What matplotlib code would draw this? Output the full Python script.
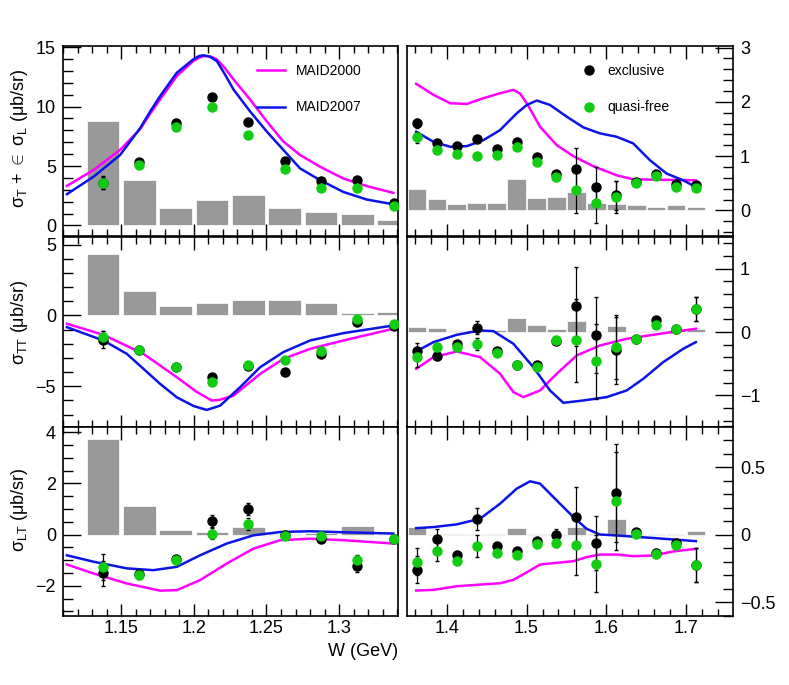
import numpy as np
import matplotlib
matplotlib.use('Agg')
import matplotlib.pyplot as plt
from matplotlib.ticker import MultipleLocator, FuncFormatter

plt.rcParams['font.family'] = ['Liberation Sans', 'DejaVu Sans']
plt.rcParams['mathtext.fontset'] = 'custom'
plt.rcParams['mathtext.rm'] = 'Liberation Sans'
plt.rcParams['mathtext.it'] = 'Liberation Sans'

# ---- W bins ----
w_low = [1.1375, 1.1625, 1.1875, 1.2125, 1.2375, 1.2625, 1.2875, 1.3125, 1.3375]
w_high = [1.3625, 1.3875, 1.4125, 1.4375, 1.4625, 1.4875, 1.5125, 1.5375,
          1.5625, 1.5875, 1.6125, 1.6375, 1.6625, 1.6875, 1.7125]

# ---- sigma_T + eps sigma_L ----
t_low_excl = [3.6, 5.37, 8.62, 10.8, 8.73, 5.4, 3.73, 3.79, 1.89]
t_low_excl_err = [0.55, 0.2, 0.2, 0.2, 0.2, 0.2, 0.15, 0.15, 0.15]
t_low_qf = [3.58, 5.06, 8.28, 10.0, 7.57, 4.72, 3.14, 3.14, 1.61]
t_low_qf_err = [0.5, 0.2, 0.2, 0.2, 0.2, 0.2, 0.15, 0.15, 0.15]
t_low_sys = [8.76, 3.81, 1.50, 2.15, 2.54, 1.47, 1.10, 0.96, 0.45]

t_high_excl = [1.605, 1.235, 1.185, 1.309, 1.130, 1.253, 0.988, 0.667,
               0.759, 0.432, 0.278, 0.531, 0.679, 0.481, 0.463]
t_high_excl_err = [0.08, 0.05, 0.05, 0.05, 0.05, 0.05, 0.05, 0.05,
                   0.4, 0.37, 0.27, 0.05, 0.05, 0.05, 0.05]
t_high_qf = [1.346, 1.111, 1.043, 1.0, 1.025, 1.173, 0.901, 0.611,
             0.383, 0.130, 0.247, 0.512, 0.630, 0.432, 0.420]
t_high_qf_err = [0.1, 0.05, 0.05, 0.05, 0.05, 0.05, 0.05, 0.05,
                 0.43, 0.36, 0.29, 0.05, 0.05, 0.05, 0.05]
t_high_sys = [0.389, 0.21, 0.123, 0.136, 0.13, 0.58, 0.228, 0.241,
              0.333, 0.136, 0.111, 0.105, 0.062, 0.105, 0.062]

t_low_m00_w = [1.1127, 1.1310, 1.1493, 1.1631, 1.1700, 1.1768, 1.1883, 1.1997, 1.2040, 1.2078,
               1.2120, 1.2158, 1.2210, 1.2273, 1.2387, 1.2502, 1.2616, 1.2731, 1.2869, 1.3029,
               1.3190, 1.3373]
t_low_m00 = [3.33, 4.66, 6.36, 8.11, 9.4, 10.6, 12.57, 13.84, 14.15, 14.26,
             14.2, 13.98, 13.3, 12.29, 10.6, 8.76, 7.06, 5.93, 4.94, 3.95,
             3.31, 2.74]
t_low_m07_w = [1.1127, 1.1310, 1.1493, 1.1631, 1.1700, 1.1768, 1.1883, 1.1997, 1.2035, 1.2066,
               1.2110, 1.2158, 1.2210, 1.2273, 1.2387, 1.2502, 1.2616, 1.2731, 1.2869, 1.3029,
               1.3190, 1.3373]
t_low_m07 = [2.63, 4.10, 5.93, 8.19, 9.6, 10.88, 12.85, 13.98, 14.25, 14.32,
             14.2, 13.84, 12.8, 11.44, 9.6, 7.9, 6.36, 4.8, 3.81, 2.82,
             2.18, 1.78]

t_high_m00_w = [1.3615, 1.3832, 1.4041, 1.4251, 1.4459, 1.4668, 1.4835, 1.4920, 1.5003, 1.5169,
                1.5378, 1.5587, 1.5837, 1.6130, 1.6338, 1.7124]
t_high_m00 = [2.333, 2.13, 1.975, 1.963, 2.068, 2.16, 2.222, 2.15, 1.975, 1.543,
              1.204, 1.0, 0.815, 0.648, 0.574, 0.556]
t_high_m07_w = [1.3615, 1.3832, 1.4041, 1.4251, 1.4459, 1.4668, 1.4877, 1.5003, 1.5128,
                1.5294, 1.5504, 1.5712, 1.5921, 1.6130, 1.6338, 1.6548, 1.6757, 1.6965, 1.7124]
t_high_m07 = [1.45, 1.265, 1.173, 1.185, 1.296, 1.481, 1.79, 1.944, 2.025,
              1.944, 1.728, 1.531, 1.42, 1.358, 1.235, 0.926, 0.679, 0.556, 0.432]

# ---- sigma_TT ----
tt_low_excl = [-1.72, -2.41, -3.66, -4.32, -3.58, -3.96, -2.71, -0.47, -0.78]
tt_low_excl_err = [0.6, 0.2, 0.2, 0.2, 0.2, 0.2, 0.15, 0.15, 0.15]
tt_low_qf = [-1.53, -2.41, -3.61, -4.67, -3.49, -3.18, -2.48, -0.28, -0.64]
tt_low_qf_err = [0.4, 0.2, 0.2, 0.2, 0.2, 0.2, 0.15, 0.15, 0.15]
tt_low_sys = [4.36, 1.72, 0.66, 0.87, 1.06, 1.11, 0.87, 0.17, 0.24]

tt_high_excl = [-0.305, -0.384, -0.184, 0.068, -0.305, -0.516, -0.526, -0.142,
                0.405, -0.042, -0.289, -0.105, 0.184, 0.053, 0.368]
tt_high_excl_err = [0.13, 0.06, 0.05, 0.1, 0.05, 0.05, 0.05, 0.05,
                    0.63, 0.6, 0.53, 0.05, 0.05, 0.05, 0.19]
tt_high_qf = [-0.395, -0.237, -0.237, -0.189, -0.326, -0.526, -0.553, -0.121,
              -0.132, -0.463, -0.237, -0.116, 0.116, 0.042, 0.368]
tt_high_qf_err = [0.16, 0.05, 0.05, 0.1, 0.05, 0.05, 0.05, 0.05,
                  0.66, 0.59, 0.5, 0.05, 0.05, 0.05, 0.19]
tt_high_sys = [0.074, 0.058, 0.02, 0.026, 0.026, 0.23, 0.105, 0.047,
               0.174, 0.016, 0.1, 0.016, 0.016, 0.037, 0.042]

tt_low_m00_w = [1.1127, 1.1378, 1.1653, 1.1883, 1.2020, 1.2124, 1.2180, 1.2273, 1.2456,
                1.2616, 1.2800, 1.3029, 1.3373]
tt_low_m00 = [-0.59, -1.37, -2.71, -4.36, -5.4, -6.01, -5.95, -5.66, -4.13,
              -3.07, -2.36, -1.77, -0.94]
tt_low_m07_w = [1.1127, 1.1378, 1.1539, 1.1768, 1.1883, 1.2000, 1.2089, 1.2181, 1.2318, 1.2456,
                1.2616, 1.2800, 1.3029, 1.3373]
tt_low_m07 = [-0.83, -1.77, -2.71, -4.83, -5.78, -6.4, -6.67, -6.37, -5.07, -3.66,
              -2.59, -1.77, -1.25, -0.71]

tt_high_m00_w = [1.3615, 1.3832, 1.4125, 1.4417, 1.4668, 1.4835, 1.4960, 1.5169, 1.5378,
                 1.5629, 1.5921, 1.6256, 1.6589, 1.7124]
tt_high_m00 = [-0.579, -0.395, -0.305, -0.395, -0.658, -0.947, -1.026, -0.921, -0.658,
               -0.368, -0.211, -0.105, -0.042, 0.053]
tt_high_m07_w = [1.3615, 1.3832, 1.4125, 1.4417, 1.4584, 1.4835, 1.5085, 1.5294, 1.5461,
                 1.5712, 1.6005, 1.6256, 1.6464, 1.6714, 1.6965, 1.7124]
tt_high_m07 = [-0.305, -0.158, -0.042, 0.026, 0.016, -0.184, -0.553, -0.921, -1.116,
               -1.079, -1.026, -0.921, -0.737, -0.474, -0.263, -0.158]

# ---- sigma_LT ----
lt_low_excl = [-1.52, -1.55, -0.97, 0.53, 1.0, -0.03, -0.16, -1.23, -0.16]
lt_low_excl_err = [0.48, 0.15, 0.15, 0.23, 0.23, 0.1, 0.1, 0.23, 0.1]
lt_low_qf = [-1.26, -1.58, -1.0, 0.04, 0.42, -0.05, -0.05, -1.0, -0.16]
lt_low_qf_err = [0.5, 0.15, 0.15, 0.22, 0.23, 0.1, 0.1, 0.2, 0.1]
lt_low_sys = [3.74, 1.10, 0.17, 0.10, 0.29, 0.01, 0.06, 0.32, 0.02]

lt_high_excl = [-0.257, -0.03, -0.148, 0.116, -0.081, -0.119, -0.049, -0.005,
                0.131, -0.059, 0.309, 0.02, -0.133, -0.062, -0.222]
lt_high_excl_err = [0.1, 0.07, 0.02, 0.08, 0.02, 0.02, 0.02, 0.05,
                    0.22, 0.2, 0.36, 0.02, 0.03, 0.02, 0.125]
lt_high_qf = [-0.198, -0.123, -0.19, -0.084, -0.136, -0.151, -0.067, -0.062,
              -0.077, -0.215, 0.249, 0.007, -0.141, -0.074, -0.222]
lt_high_qf_err = [0.1, 0.07, 0.02, 0.08, 0.02, 0.02, 0.02, 0.03,
                  0.22, 0.21, 0.36, 0.02, 0.03, 0.02, 0.125]
lt_high_sys = [0.057, 0.005, 0.007, 0.007, 0.005, 0.049, 0.005, 0.005,
               0.054, 0.005, 0.119, 0.005, 0.005, 0.005, 0.025]

lt_low_m00_w = [1.1127, 1.1310, 1.1539, 1.1768, 1.1883, 1.2043, 1.2227, 1.2410, 1.2594, 1.2800, 1.3029, 1.3373]
lt_low_m00 = [-1.17, -1.52, -1.91, -2.19, -2.17, -1.78, -1.13, -0.55, -0.22, -0.16, -0.22, -0.35]
lt_low_m07_w = [1.1127, 1.1310, 1.1539, 1.1722, 1.1883, 1.2043, 1.2227, 1.2410, 1.2594, 1.2800, 1.3029, 1.3373]
lt_low_m07 = [-0.81, -1.06, -1.32, -1.39, -1.26, -0.81, -0.35, -0.03, 0.10, 0.13, 0.09, 0.04]

lt_high_m00_w = [1.3615, 1.3832, 1.4125, 1.4417, 1.4668, 1.4835, 1.5003, 1.5169, 1.5378,
                 1.5587, 1.5754, 1.5921, 1.6130, 1.6338, 1.6589, 1.6840, 1.7124]
lt_high_m00 = [-0.412, -0.407, -0.38, -0.368, -0.358, -0.333, -0.277, -0.22, -0.207,
               -0.195, -0.165, -0.146, -0.146, -0.158, -0.153, -0.123, -0.104]
lt_high_m07_w = [1.3615, 1.3832, 1.4125, 1.4417, 1.4668, 1.4877, 1.5044, 1.5169, 1.5378,
                 1.5587, 1.5754, 1.5921, 1.6130, 1.6548, 1.7124]
lt_high_m07 = [0.049, 0.057, 0.077, 0.119, 0.23, 0.341, 0.395, 0.378, 0.254,
               0.131, 0.044, 0.002, -0.005, -0.022, -0.047]

MAG = '#ff00ff'
BLU = '#0a14e6'
GRN = '#11cc11'
BAR = '#999999'

fig = plt.figure(figsize=(7.89, 6.85), dpi=100)
H = 685.0
W = 789.0
rows = [(46, 236.5), (236.5, 426.5), (426.5, 616)]

fmt = FuncFormatter(lambda v, p: ('%g' % v).replace('-', '\u2212'))

def make_ax(x0, x1, row):
    t, b = rows[row]
    return fig.add_axes([x0 / W, 1 - b / H, (x1 - x0) / W, (b - t) / H])

def style(ax, side, xmaj, xmin, ymaj, ymin, bottom_labels):
    ax.xaxis.set_major_locator(MultipleLocator(xmaj))
    ax.xaxis.set_minor_locator(MultipleLocator(xmin))
    ax.yaxis.set_major_locator(MultipleLocator(ymaj))
    ax.yaxis.set_minor_locator(MultipleLocator(ymin))
    ax.yaxis.set_major_formatter(fmt)
    ax.xaxis.set_major_formatter(fmt)
    left = side == 'left'
    ax.tick_params(axis='x', which='both', direction='in', top=True, bottom=True,
                   labelbottom=bottom_labels, labelsize=13, pad=3)
    ax.tick_params(axis='x', which='major', length=9, width=1)
    ax.tick_params(axis='x', which='minor', length=5, width=1)
    ax.tick_params(axis='y', which='both', direction='in', left=left, right=not left,
                   labelleft=left, labelright=not left, labelsize=13, pad=5)
    ax.tick_params(axis='y', which='major', length=13, width=1)
    ax.tick_params(axis='y', which='minor', length=7, width=1)
    for s in ax.spines.values():
        s.set_linewidth(1.2)

def draw(ax, w, sys, bw, excl, excl_err, qf, qf_err, c00w, c00, c07w, c07):
    ax.bar(w, sys, width=bw, color=BAR, edgecolor='white', linewidth=0.5, zorder=1)
    ax.plot(c00w, c00, color=MAG, lw=1.8, zorder=2, label='MAID2000')
    ax.plot(c07w, c07, color=BLU, lw=1.8, zorder=2, label='MAID2007')
    ax.errorbar(w, excl, yerr=excl_err, fmt='o', color='black', ms=6.5, ecolor='black',
                elinewidth=0.9, capsize=1.5, zorder=3)
    ax.errorbar(w, qf, yerr=qf_err, fmt='o', color=GRN, ms=6.5, ecolor='black',
                elinewidth=0.9, capsize=1.5, zorder=4)

# top row
a = make_ax(63, 398, 0)
draw(a, w_low, t_low_sys, 0.0225, t_low_excl, t_low_excl_err, t_low_qf, t_low_qf_err,
     t_low_m00_w, t_low_m00, t_low_m07_w, t_low_m07)
a.set_xlim(1.11, 1.3405)
a.set_ylim(-0.93, 15.1)
style(a, 'left', 0.05, 0.01, 5, 1, False)
a.legend(loc='upper right', bbox_to_anchor=(0.93, 0.97), frameon=False, fontsize=10,
         handlelength=2.0, labelspacing=1.6)

b = make_ax(407, 733, 0)
draw(b, w_high, t_high_sys, 0.0235, t_high_excl, t_high_excl_err, t_high_qf, t_high_qf_err,
     t_high_m00_w, t_high_m00, t_high_m07_w, t_high_m07)
b.set_xlim(1.35, 1.759)
b.set_ylim(-0.48, 3.03)
style(b, 'right', 0.1, 0.02, 1, 0.2, False)
h1 = b.plot([], [], 'o', color='black', ms=6.5)[0]
h2 = b.plot([], [], 'o', color=GRN, ms=6.5)[0]
b.legend([h1, h2], ['exclusive', 'quasi-free'], loc='upper left', bbox_to_anchor=(0.5, 0.97),
         frameon=False, fontsize=10, handlelength=1.0, labelspacing=1.6)

# middle row
c = make_ax(63, 398, 1)
draw(c, w_low, tt_low_sys, 0.0225, tt_low_excl, tt_low_excl_err, tt_low_qf, tt_low_qf_err,
     tt_low_m00_w, tt_low_m00, tt_low_m07_w, tt_low_m07)
c.set_xlim(1.11, 1.3405)
c.set_ylim(-7.84, 5.57)
style(c, 'left', 0.05, 0.01, 5, 1, False)

d = make_ax(407, 733, 1)
draw(d, w_high, tt_high_sys, 0.0235, tt_high_excl, tt_high_excl_err, tt_high_qf, tt_high_qf_err,
     tt_high_m00_w, tt_high_m00, tt_high_m07_w, tt_high_m07)
d.set_xlim(1.35, 1.759)
d.set_ylim(-1.49, 1.51)
style(d, 'right', 0.1, 0.02, 1, 0.2, False)

# bottom row
e = make_ax(63, 398, 2)
draw(e, w_low, lt_low_sys, 0.0225, lt_low_excl, lt_low_excl_err, lt_low_qf, lt_low_qf_err,
     lt_low_m00_w, lt_low_m00, lt_low_m07_w, lt_low_m07)
e.set_xlim(1.11, 1.3405)
e.set_ylim(-3.18, 4.22)
style(e, 'left', 0.05, 0.01, 2, 0.5, True)

f = make_ax(407, 733, 2)
draw(f, w_high, lt_high_sys, 0.0235, lt_high_excl, lt_high_excl_err, lt_high_qf, lt_high_qf_err,
     lt_high_m00_w, lt_high_m00, lt_high_m07_w, lt_high_m07)
f.set_xlim(1.35, 1.759)
f.set_ylim(-0.6, 0.8)
style(f, 'right', 0.1, 0.02, 0.5, 0.1, True)

fig.text(20 / W, 1 - 138 / H, r'$\sigma_{\rm T}$ + $\in$ $\sigma_{\rm L}$ (μb/sr)', rotation=90,
         ha='center', va='center', fontsize=13)
fig.text(20 / W, 1 - 322 / H, r'$\sigma_{\rm TT}$ (μb/sr)', rotation=90,
         ha='center', va='center', fontsize=13)
fig.text(20 / W, 1 - 510 / H, r'$\sigma_{\rm LT}$ (μb/sr)', rotation=90,
         ha='center', va='center', fontsize=13)
fig.text(398 / W, 1 - 652 / H, 'W (GeV)', ha='right', va='center', fontsize=13)

fig.savefig('out.png', dpi=100)
